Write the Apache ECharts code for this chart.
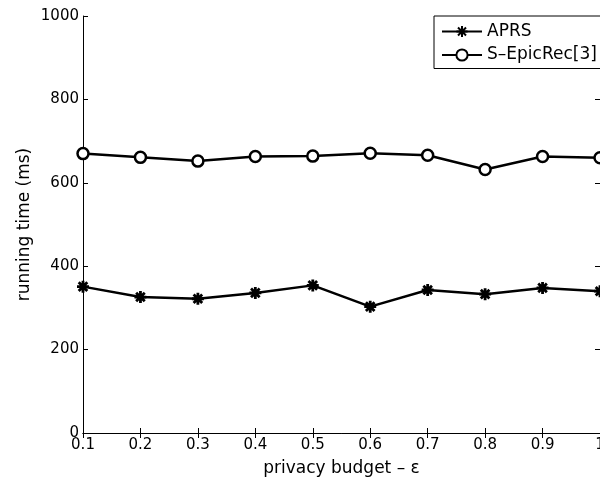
<!DOCTYPE html>
<html><head><meta charset="utf-8">
<script src="https://cdn.jsdelivr.net/npm/echarts@6/dist/echarts.min.js"></script>
<style>html,body{margin:0;padding:0;background:#fff}#c{width:600px;height:482px}</style>
</head><body><div id="c"></div>
<script>
const categories = ['0.1','0.2','0.3','0.4','0.5','0.6','0.7','0.8','0.9','1'];
const aprs = [351, 326, 322, 336, 354, 303, 343, 333, 348, 340];
const sEpicRec = [670, 661, 652, 663, 664, 671, 666, 632, 663, 660];
const seriesNames = ['APRS', 'S\u2013EpicRec[3]'];
const xName = 'privacy budget \u2013 \u03b5';
const yName = 'running time (ms)';

const FONT = 'DejaVu Sans';
const chart = echarts.init(document.getElementById('c'), null, {renderer: 'canvas'});
const star = 'path://M0,-6L0,6M-6,0L6,0M-4.3,-4.3L4.3,4.3M-4.3,4.3L4.3,-4.3';
const tick = {show: true, inside: true, length: 5, lineStyle: {color: '#000', width: 1}};
chart.setOption({
  animation: false,
  backgroundColor: '#fff',
  grid: {left: 83, right: 0, top: 16, bottom: 49, containLabel: false, outerBoundsMode: 'none'},
  legend: {
    orient: 'vertical', left: 434, top: 16,
    backgroundColor: '#fff', borderColor: '#000', borderWidth: 1, borderRadius: 0,
    padding: [7, 30, 5, 7], itemWidth: 40, itemHeight: 14, itemGap: 6.5,
    textStyle: {fontFamily: FONT, fontSize: 17, color: '#000'},
    data: seriesNames
  },
  xAxis: [{
    type: 'category', data: categories, boundaryGap: false,
    axisLine: {lineStyle: {color: '#000', width: 1}},
    axisTick: Object.assign({alignWithLabel: true}, tick),
    axisLabel: {fontFamily: FONT, fontSize: 15, color: '#000', margin: 5, interval: 0},
    splitLine: {show: false},
    name: xName, nameLocation: 'middle', nameGap: 27,
    nameTextStyle: {fontFamily: FONT, fontSize: 17, color: '#000'}
  }, {
    type: 'category', data: categories, boundaryGap: false, position: 'top',
    axisLine: {lineStyle: {color: '#000', width: 1}},
    axisTick: tick, axisLabel: {show: false}, splitLine: {show: false}
  }],
  yAxis: [{
    type: 'value', min: 0, max: 1000, interval: 200,
    axisLine: {show: true, lineStyle: {color: '#000', width: 1}},
    axisTick: tick,
    axisLabel: {fontFamily: FONT, fontSize: 15, color: '#000', margin: 4, formatter: v => String(v)},
    splitLine: {show: false},
    name: yName, nameLocation: 'middle', nameGap: 50, nameRotate: 90, nameMoveOverlap: false,
    nameTextStyle: {fontFamily: FONT, fontSize: 17, color: '#000'}
  }, {
    type: 'value', min: 0, max: 1000, interval: 200, position: 'right',
    axisLine: {show: true, lineStyle: {color: '#000', width: 1}},
    axisTick: tick, axisLabel: {show: false}, splitLine: {show: false}
  }],
  series: [{
    name: seriesNames[0], type: 'line', data: aprs,
    symbol: star, symbolSize: 12, showAllSymbol: true,
    lineStyle: {color: '#000', width: 2.5},
    itemStyle: {color: '#000', borderColor: '#000', borderWidth: 2.8}
  }, {
    name: seriesNames[1], type: 'line', data: sEpicRec,
    symbol: 'circle', symbolSize: 11, showAllSymbol: true,
    lineStyle: {color: '#000', width: 2.5},
    itemStyle: {color: '#fff', borderColor: '#000', borderWidth: 2.5}
  }]
});
</script></body></html>
